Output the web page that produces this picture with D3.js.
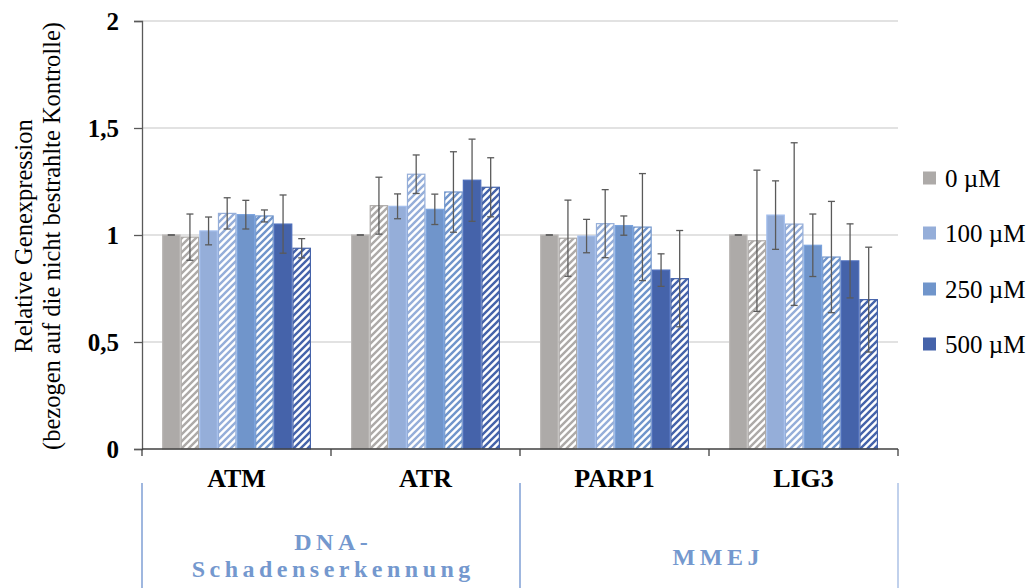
<!DOCTYPE html>
<html><head><meta charset="utf-8">
<script src="https://cdn.jsdelivr.net/npm/d3@7/dist/d3.min.js"></script>
<style>
html,body{margin:0;padding:0;background:#fff;}
svg{display:block;}
svg text{font-family:"Liberation Serif","Times New Roman",serif;}
</style></head>
<body><svg id="c" width="1028" height="588"></svg>
<script>
const FONT = "Liberation Serif, Times New Roman, serif";
const categories = ["ATM", "ATR", "PARP1", "LIG3"];
const groups = [
  { label: ["DNA-", "Schadenserkennung"], from: 0, to: 2 },
  { label: ["MMEJ"], from: 2, to: 4 }
];
const concentrations = ["0 µM", "100 µM", "250 µM", "500 µM"];
const yTicks = [0, 0.5, 1, 1.5, 2];
const yTitle = ["Relative Genexpression", "(bezogen auf die nicht bestrahlte Kontrolle)"];

// series order: solid / hatched for each concentration
const seriesKeys = ["c0", "c0h", "c100", "c100h", "c250", "c250h", "c500", "c500h"];
const c0    = [1.000, 1.000, 1.000, 1.000];
const c0h   = [0.990, 1.137, 0.985, 0.973];
const c100  = [1.019, 1.134, 0.995, 1.093];
const c100h = [1.101, 1.284, 1.053, 1.051];
const c250  = [1.095, 1.120, 1.044, 0.952];
const c250h = [1.089, 1.201, 1.037, 0.897];
const c500  = [1.051, 1.256, 0.836, 0.879];
const c500h = [0.938, 1.223, 0.796, 0.698];

const e0    = [0.000, 0.000, 0.000, 0.000];
const e0h   = [0.108, 0.133, 0.178, 0.330];
const e100  = [0.065, 0.058, 0.078, 0.160];
const e100h = [0.073, 0.090, 0.159, 0.380];
const e250  = [0.067, 0.071, 0.045, 0.146];
const e250h = [0.028, 0.188, 0.250, 0.260];
const e500  = [0.136, 0.192, 0.076, 0.173];
const e500h = [0.045, 0.138, 0.225, 0.245];

const values = { c0, c0h, c100, c100h, c250, c250h, c500, c500h };
const errors = { c0: e0, c0h: e0h, c100: e100, c100h: e100h, c250: e250, c250h: e250h, c500: e500, c500h: e500h };

const colors = ["#ADAAA8", "#95AED9", "#7095CB", "#4563AA"];

const svg = d3.select("#c");
const mLeft = 142, mRight = 898, mTop = 21, mBottom = 449;

const y = d3.scaleLinear().domain([0, 2]).range([mBottom, mTop]);
const x0 = d3.scaleBand().domain(categories).range([mLeft, mRight]).padding(0);
const x1 = d3.scaleBand().domain(seriesKeys).range([0, x0.bandwidth()]).paddingInner(0).paddingOuter(1.074);

// patterns
const defs = svg.append("defs");
colors.forEach((col, i) => {
  const p = defs.append("pattern").attr("id", "hatch" + i)
    .attr("patternUnits", "userSpaceOnUse").attr("width", 7).attr("height", 7);
  p.append("rect").attr("width", 7).attr("height", 7).attr("fill", "#fff");
  p.append("path").attr("d", "M-1.75,1.75 L1.75,-1.75 M0,7 L7,0 M5.25,8.75 L8.75,5.25")
    .attr("stroke", col).attr("stroke-width", 2.4);
});

// gridlines
svg.append("g").selectAll("line").data(yTicks.filter(d => d > 0)).join("line")
  .attr("x1", mLeft).attr("x2", mRight).attr("y1", d => y(d)).attr("y2", d => y(d))
  .attr("stroke", "#d9d9d9").attr("stroke-width", 1.4);

// bars
const bars = [];
categories.forEach((cat, ci) => {
  seriesKeys.forEach((k, si) => {
    bars.push({ cat, k, si, v: values[k][ci], e: errors[k][ci] });
  });
});
const g = svg.append("g");
g.selectAll("rect.bar").data(bars).join("rect").attr("class", "bar")
  .attr("x", d => x0(d.cat) + x1(d.k) + 0.6)
  .attr("width", x1.bandwidth() - 1.2)
  .attr("y", d => y(d.v))
  .attr("height", d => y(0) - y(d.v))
  .attr("fill", d => d.si % 2 === 0 ? colors[d.si / 2] : `url(#hatch${(d.si - 1) / 2})`)
  .attr("stroke", d => d.si % 2 === 0 ? d3.color(colors[d.si / 2]).brighter(0.25) : colors[(d.si - 1) / 2])
  .attr("stroke-width", 1.2);

// error bars
const eg = svg.append("g").attr("stroke", "#5a5a5a").attr("stroke-width", 1.3);
bars.forEach(d => {
  const cx = x0(d.cat) + x1(d.k) + x1.bandwidth() / 2;
  const hi = y(d.v + d.e), lo = y(d.v - d.e);
  if (d.e > 0) eg.append("line").attr("x1", cx).attr("x2", cx).attr("y1", hi).attr("y2", lo);
  eg.append("line").attr("x1", cx - 3.5).attr("x2", cx + 3.5).attr("y1", hi).attr("y2", hi);
  eg.append("line").attr("x1", cx - 3.5).attr("x2", cx + 3.5).attr("y1", lo).attr("y2", lo);
});

// y axis
const yAxis = d3.axisLeft(y).tickValues(yTicks).tickSize(8).tickPadding(15)
  .tickFormat(d => String(d).replace(".", ","));
const ya = svg.append("g").attr("transform", `translate(${mLeft},0)`).call(yAxis);
ya.attr("font-family", FONT);
ya.select(".domain").attr("stroke", "#595959").attr("stroke-width", 1.3);
ya.selectAll(".tick line").attr("stroke", "#595959").attr("stroke-width", 1.3);
ya.selectAll(".tick text").attr("font-family", FONT).attr("font-weight", "bold")
  .attr("font-size", 25).attr("fill", "#000");

// x axis
const xa = svg.append("g");
xa.append("line").attr("x1", mLeft).attr("x2", mRight).attr("y1", mBottom).attr("y2", mBottom)
  .attr("stroke", "#404040").attr("stroke-width", 1.3);
const bounds = categories.map(c => x0(c)).concat([x0(categories[categories.length - 1]) + x0.bandwidth()]);
xa.selectAll("line.tk").data(bounds).join("line").attr("class", "tk")
  .attr("x1", d => d).attr("x2", d => d).attr("y1", mBottom).attr("y2", mBottom + 7)
  .attr("stroke", "#404040").attr("stroke-width", 1.3);
xa.selectAll("text").data(categories).join("text")
  .attr("x", d => x0(d) + x0.bandwidth() / 2).attr("y", 487)
  .attr("text-anchor", "middle").attr("font-family", FONT).attr("font-weight", "bold")
  .attr("font-size", 26).attr("fill", "#000")
  .text(d => d);

// group section
const gsep = [0, 2, 4].map(i => i < 4 ? x0(categories[i]) : mRight);
svg.append("g").selectAll("line").data(gsep).join("line")
  .attr("x1", d => d).attr("x2", d => d).attr("y1", 483).attr("y2", 588)
  .attr("stroke", (d, i) => i === 2 ? "#adc2e6" : "#7f9fd4").attr("stroke-width", 1.5);

const ls = 4.5;
groups.forEach((gr, gi) => {
  const xs = x0(categories[gr.from]);
  const xe = gr.to < categories.length ? x0(categories[gr.to]) : mRight;
  const cx = (xs + xe) / 2 + (gi === 1 ? 7 : 0) + ls / 2;
  const baseY = gr.label.length === 2 ? [550, 577] : [565];
  gr.label.forEach((t, li) => {
    svg.append("text").attr("x", cx).attr("y", baseY[li]).attr("text-anchor", "middle")
      .attr("font-family", FONT).attr("font-weight", "bold").attr("font-size", 24)
      .attr("letter-spacing", ls).attr("fill", "#7498CE").text(t);
  });
});

// y title
const yt = svg.append("text").attr("transform", "translate(32,236) rotate(-90)")
  .attr("text-anchor", "middle").attr("font-family", FONT).attr("font-size", 24.5).attr("fill", "#000");
yt.append("tspan").attr("x", 0).attr("y", 0).text(yTitle[0]);
yt.append("tspan").attr("x", 0).attr("y", 28).text(yTitle[1]);

// legend
const lg = svg.append("g");
const legY = [178, 233, 289, 344];
concentrations.forEach((c, i) => {
  lg.append("rect").attr("x", 923).attr("y", legY[i] - 6.5).attr("width", 13).attr("height", 13).attr("fill", colors[i]);
  lg.append("text").attr("x", 945).attr("y", legY[i] + 8.5).attr("font-family", FONT)
    .attr("font-size", 25).attr("fill", "#000").text(c);
});
</script></body></html>
